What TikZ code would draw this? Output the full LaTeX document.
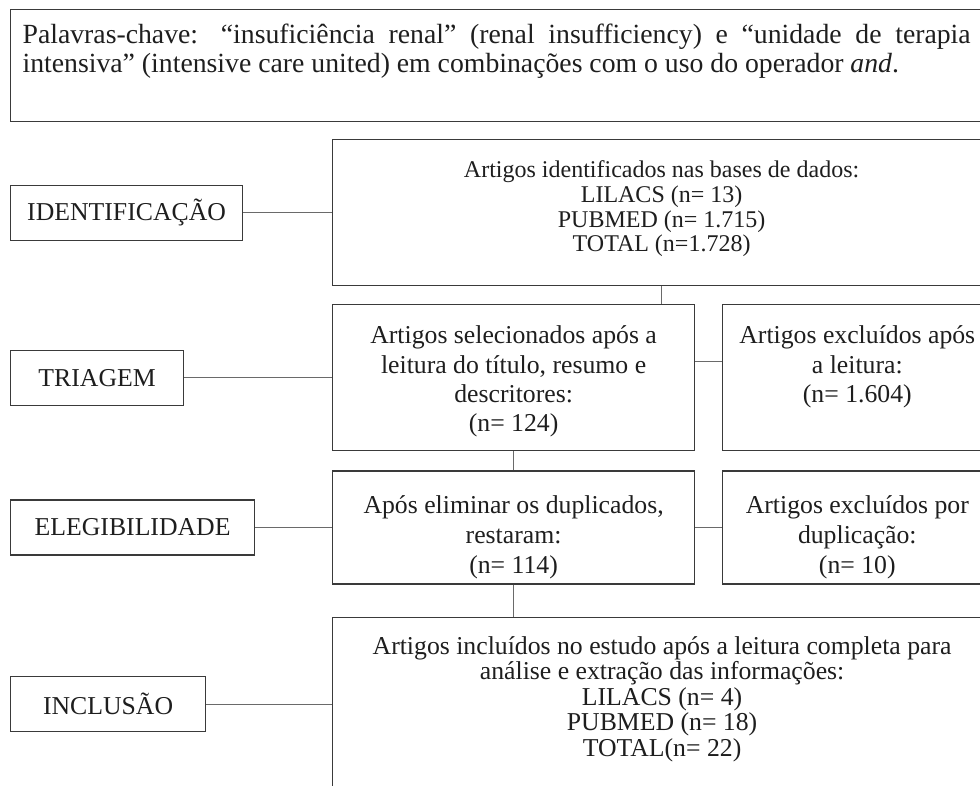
\documentclass[tikz,border=0pt]{standalone}
\usepackage{fontspec}
\setmainfont{Liberation Serif}
\usetikzlibrary{positioning,calc}
\definecolor{lne}{HTML}{3A3A3A}
\definecolor{cnx}{HTML}{6A6A6A}
\definecolor{txt}{HTML}{1E1E1E}
\newcommand{\upgap}[1]{\rule{0pt}{#1}}
\newcommand{\downgap}[1]{\rule[-#1]{0pt}{#1}}
\setlength{\parindent}{0pt}
\tikzset{
  stage/.style={rectangle, draw=lne, line width=0.9pt, text=txt, align=center,
                minimum height=41.25pt, font=\fontsize{19.3pt}{22pt}\selectfont},
  box/.style={rectangle, draw=lne, line width=0.9pt, text=txt, align=center,
              inner sep=0pt},
  lead/.style n args={2}{font=\fontsize{#1}{#2}\selectfont},
  link/.style={draw=cnx, line width=0.8pt}
}

\begin{document}
\begin{tikzpicture}[x=0.75pt, y=-0.75pt]
\useasboundingbox (0,0) rectangle (980,785);
\clip (0,0) rectangle (980,785);
% keywords
\node[box, anchor=north west, minimum width=729pt, minimum height=84pt, text width=711pt, align=justify, lead={20.8pt}{21.4pt}] (kw) at (10,9)
  {Palavras-chave: “insuficiência renal” (renal insufficiency) e “unidade de terapia\linebreak intensiva” (intensive care united) em combinações com o uso do operador \textit{and}.\downgap{26pt}};
% flow boxes
\node[box, anchor=north west, minimum width=493.5pt, minimum height=109.5pt, lead={18pt}{18.5pt}] (id) at (332,139)
  {Artigos identificados nas bases de dados:\\LILACS (n= 13)\\PUBMED (n= 1.715)\\TOTAL (n=1.728)\downgap{9.3pt}};
\node[box, below=13.5pt of id.south west, anchor=north west, minimum width=271.5pt, minimum height=109.5pt, lead={19.3pt}{22pt}] (tri)
  {\upgap{19pt}Artigos selecionados após a\\leitura do título, resumo e\\descritores:\\(n= 124)};
\node[box, right=20.25pt of tri.north east, anchor=north west, minimum width=201.75pt, minimum height=109.5pt, lead={19.3pt}{22pt}] (ex1)
  {Artigos excluídos após\\a leitura:\\(n= 1.604)\downgap{20.5pt}};
\node[box, below=14.25pt of tri.south west, anchor=north west, minimum width=271.5pt, minimum height=84.75pt, lead={19.3pt}{22.5pt}] (eli)
  {\upgap{28pt}Após eliminar os duplicados,\\restaram:\\(n= 114)};
\node[box, right=20.25pt of eli.north east, anchor=north west, minimum width=201.75pt, minimum height=84.75pt, lead={19.3pt}{22.5pt}] (ex2)
  {\upgap{28pt}Artigos excluídos por\\duplicação:\\(n= 10)};
\node[box, below=24pt of eli.south west, anchor=north west, minimum width=494.25pt, minimum height=130.5pt, lead={19.3pt}{19.1pt}] (inc)
  {Artigos incluídos no estudo após a leitura completa para\\análise e extração das informações:\\LILACS (n= 4)\\PUBMED (n= 18)\\TOTAL(n= 22)\downgap{11.7pt}};
% stage labels
\node[stage, anchor=west, minimum width=174pt] (lid) at (kw.west |- id) {IDENTIFICAÇÃO};
\node[stage, anchor=west, minimum width=129.75pt] (ltr) at (kw.west |- tri) {TRIAGEM};
\node[stage, anchor=west, minimum width=183pt] (lel) at (kw.west |- eli) {ELEGIBILIDADE};
\node[stage, anchor=west, minimum width=146.25pt] (lin) at (kw.west |- inc) {INCLUSÃO};
% connectors
\draw[link] (lid) -- (id);
\draw[link] (ltr) -- (tri);
\draw[link] (lel) -- (eli);
\draw[link] (lin) -- (inc);
\draw[link] (id.south) -- (id.south |- tri.north);
\draw[link] ($(tri.east)+(0,-16)$) -- ($(ex1.west)+(0,-16)$);
\draw[link] (tri) -- (eli);
\draw[link] (eli) -- (ex2);
\draw[link] (eli.south) -- (eli.south |- inc.north);
\end{tikzpicture}
\end{document}
